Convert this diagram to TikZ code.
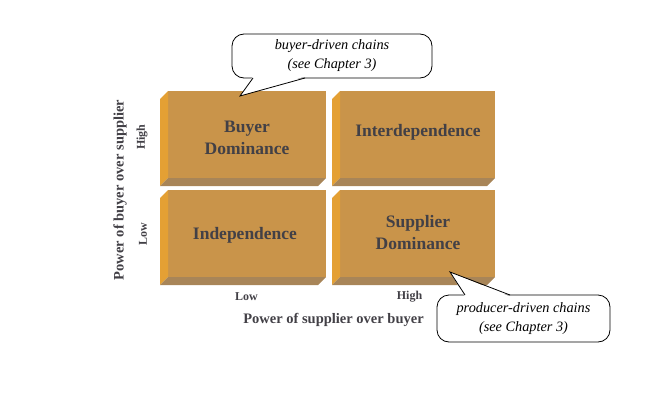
\documentclass[tikz,border=0pt]{standalone}
\usepackage{fontspec}
\setmainfont{Liberation Serif}[BoldFont=Liberation Serif Bold, ItalicFont=Liberation Serif Italic]
\definecolor{faceC}{RGB}{201,148,74}
\definecolor{leftC}{RGB}{228,160,52}
\definecolor{botC}{RGB}{168,133,88}
\definecolor{txtC}{RGB}{66,64,70}
\newcommand{\blockbevels}[1]{%
  \fill[leftC] ([shift={(-8,8)}]#1.north west) -- (#1.north west) -- (#1.south west) -- ([shift={(-8,8)}]#1.south west) -- cycle;
  \fill[botC] ([shift={(-8,8)}]#1.south west) -- (#1.south west) -- (#1.south east) -- ([shift={(-8,8)}]#1.south east) -- cycle;}
\begin{document}
\begin{tikzpicture}[x=1pt,y=-1pt,
  face/.style={fill=faceC, draw=none, inner sep=0pt, outer sep=0pt, minimum height=87pt},
  blocktext/.style={text=txtC, font=\fontsize{17.5}{22}\selectfont\bfseries, align=center, inner sep=0pt},
  axislab/.style={text=txtC, font=\fontsize{12}{14}\selectfont\bfseries, inner sep=0pt},
  axistitle/.style={text=txtC, font=\fontsize{14.5}{17}\selectfont\bfseries, inner sep=0pt},
  bubble/.style={draw=black, line width=0.8pt, fill=white, rounded corners=12pt, inner sep=0pt,
    font=\fontsize{14.3}{19}\selectfont\itshape, align=center},
  pointer/.style={draw=black, line width=0.8pt, line join=miter}]
\useasboundingbox (0,0) rectangle (659,407);
% blocks
\node[face, minimum width=158pt] (tl) at (247,134.5) {};
\node[face, minimum width=155pt] (tr) at (417.5,134.5) {};
\node[face, minimum width=158pt] (bl) at (247,233.5) {};
\node[face, minimum width=155pt] (br) at (417.5,233.5) {};
\blockbevels{tl}
\blockbevels{tr}
\blockbevels{bl}
\blockbevels{br}
\node[blocktext] (tlt) at (247,138) {Buyer\\Dominance};
\node[blocktext] (trt) at (418,132) {Interdependence};
\node[blocktext] (blt) at (245,235) {Independence};
\node[blocktext] (brt) at (418,233) {Supplier\\Dominance};
% axes labels
\node[axislab] (xlow) at (246.5,297) {Low};
\node[axislab] (xhigh) at (409.5,297) {High};
\node[axistitle] (xtitle) at (333.5,320) {Power of supplier over buyer};
\node[axislab, rotate=90] (yhigh) at (142,137) {High};
\node[axislab, rotate=90] (ylow) at (143,234) {Low};
\node[axistitle, rotate=90] (ytitle) at (120,190) {Power of buyer over supplier};
% callout 1
\node[bubble, minimum width=200pt, minimum height=44pt] (cb1) at (332,56) {buyer-driven chains\\(see Chapter 3)};
\coordinate (p1tip) at (240,96);
\coordinate (p1a) at (253,78);
\coordinate (p1b) at (305,78);
\fill[white] ([shift={(0,-1.5)}]p1a) -- (p1tip) -- ([shift={(0,-1.5)}]p1b) -- cycle;
\draw[pointer] (p1a) -- (p1tip) -- (p1b);
% callout 2
\node[bubble, minimum width=173pt, minimum height=47pt] (cb2) at (523.5,318.5) {producer-driven chains\\(see Chapter 3)};
\coordinate (p2tip) at (450,272);
\coordinate (p2a) at (465,295);
\coordinate (p2b) at (510,295);
\fill[white] ([shift={(0,1.5)}]p2a) -- (p2tip) -- ([shift={(0,1.5)}]p2b) -- cycle;
\draw[pointer] (p2a) -- (p2tip) -- (p2b);
\end{tikzpicture}
\end{document}
